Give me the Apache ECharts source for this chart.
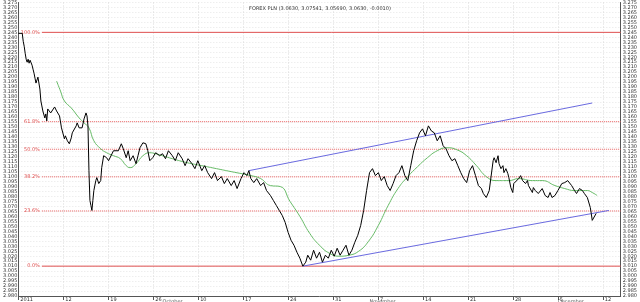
<!DOCTYPE html>
<html><head><meta charset="utf-8">
<script src="https://cdn.jsdelivr.net/npm/echarts/dist/echarts.min.js"></script>
<style>html,body{margin:0;padding:0;background:#fff}#c{width:640px;height:302px}</style>
</head><body><div id="c"></div>
<script>
const titleText = "FOREX PLN (3.0630, 3.07541, 3.05690, 3.0630, -0.0010)";
const weekLabels = ["2011","12","19","26","10","17","24","31","7","14","21","28","5","12"];
const monthNames = ["October","November","December"];
const monthBars = [147, 358, 550];
const fibPct = [1, 0.618, 0.5, 0.382, 0.236, 0];
const fibText = ["100.0%","61.8%","50.0%","38.2%","23.6%","0.0%"];
const fibHigh = 3.245, fibLow = 3.010;
const upperChannel = [[235,3.106],[585,3.174]];
const lowerChannel = [[290,3.010],[602,3.066]];
const closes = [
[0,3.244],[2,3.245],[4,3.244],[5,3.236],[6,3.231],[7,3.224],[8,3.218],[9,3.215],[10,3.218],[11,3.214],[12,3.217],[13,3.216],[14,3.212],[15,3.208],[16,3.204],[17,3.199],[18,3.194],[19,3.196],[20,3.200],[21,3.198],[22,3.188],[23,3.176],[24,3.171],[25,3.166],[26,3.164],[27,3.159],[28,3.163],[29,3.156],[30,3.168],[32,3.169],[33,3.164],[35,3.166],[37,3.170],[39,3.166],[40,3.168],[42,3.161],[44,3.149],[47,3.138],[48,3.141],[50,3.136],[52,3.133],[54,3.139],[55,3.144],[57,3.143],[59,3.151],[60,3.154],[62,3.149],[64,3.151],[65,3.149],[67,3.158],[69,3.164],[70,3.161],[71,3.151],[72,3.106],[73,3.076],[74,3.071],[75,3.066],[76,3.076],[77,3.086],[79,3.096],[80,3.099],[82,3.093],[84,3.096],[85,3.109],[87,3.121],[89,3.123],[90,3.119],[92,3.116],[94,3.118],[97,3.126],[99,3.124],[102,3.126],[105,3.133],[107,3.128],[110,3.119],[112,3.126],[114,3.116],[117,3.121],[120,3.113],[122,3.121],[124,3.129],[127,3.134],[129,3.136],[130,3.133],[132,3.126],[134,3.116],[137,3.119],[140,3.124],[144,3.121],[147,3.123],
[150,3.118],[153,3.126],[157,3.121],[160,3.116],[163,3.124],[167,3.118],[170,3.111],[173,3.118],[177,3.113],[180,3.108],[183,3.116],[187,3.106],[190,3.111],[193,3.104],[197,3.098],[200,3.104],[203,3.096],[207,3.100],[210,3.093],[213,3.098],[217,3.091],[220,3.096],[223,3.088],[227,3.098],[230,3.104],[233,3.101],[235,3.106],[237,3.098],[240,3.094],[243,3.098],[247,3.091],[250,3.094],[253,3.086],[257,3.081],[260,3.076],[263,3.071],[266,3.066],[269,3.061],[272,3.054],[275,3.044],[278,3.036],[281,3.031],[284,3.024],[287,3.018],[290,3.010],[293,3.014],[295,3.021],[298,3.016],[301,3.026],[304,3.018],[307,3.024],[310,3.014],[313,3.021],[316,3.018],[319,3.026],[322,3.020],[325,3.028],[328,3.021],[331,3.026],[334,3.031],[337,3.021],[340,3.026],[343,3.034],[346,3.041],[349,3.051],[352,3.066],[355,3.086],[358,3.104],[361,3.108],[364,3.101],[367,3.104],[370,3.096],[373,3.100],[376,3.091],[379,3.086],[382,3.093],[385,3.101],[388,3.104],[391,3.111],[394,3.101],[397,3.096],[400,3.111],[403,3.126],[406,3.136],[409,3.144],[412,3.148],[415,3.141],[418,3.151],[421,3.146],[424,3.144],[427,3.136],[430,3.141],[433,3.131],[436,3.128],[439,3.121],[442,3.116],[445,3.118],[448,3.111],[451,3.104],[454,3.098],[457,3.094],[460,3.106],[463,3.111],[466,3.101],[469,3.091],[472,3.088],[474,3.083],[477,3.079],[480,3.086],[484,3.116],[485,3.119],[487,3.114],[489,3.121],[490,3.113],[492,3.108],[494,3.111],[495,3.104],[497,3.108],[499,3.103],[500,3.099],[502,3.089],[504,3.084],[505,3.093],[507,3.094],[510,3.098],[512,3.101],[514,3.096],[515,3.098],[517,3.093],[519,3.096],[520,3.091],[522,3.089],[524,3.084],[525,3.089],[527,3.086],[529,3.088],[530,3.083],[534,3.088],[537,3.081],[540,3.079],[542,3.084],[544,3.079],[547,3.081],[550,3.086],[554,3.093],[557,3.094],[560,3.096],[562,3.094],[564,3.091],[567,3.086],[569,3.083],[570,3.081],[572,3.088],[574,3.089],[575,3.086],[577,3.083],[580,3.079],[582,3.078],[583,3.069],[584,3.063],[585,3.056],[587,3.058],[589,3.063]
];
const movingAvg = [
[39,3.196],[43,3.186],[47,3.176],[54,3.169],[62,3.159],[67,3.154],[72,3.149],[77,3.136],[84,3.128],[90,3.124],[97,3.121],[104,3.118],[110,3.111],[114,3.109],[120,3.113],[127,3.121],[134,3.124],[140,3.123],[147,3.121],[157,3.118],[172,3.114],[187,3.111],[202,3.108],[217,3.105],[237,3.101],[247,3.098],[257,3.091],[267,3.090],[277,3.075],[287,3.060],[297,3.043],[307,3.031],[317,3.023],[327,3.020],[337,3.021],[347,3.025],[357,3.035],[367,3.051],[377,3.071],[387,3.088],[397,3.100],[407,3.110],[417,3.119],[427,3.126],[437,3.129],[447,3.127],[457,3.121],[467,3.111],[477,3.100],[487,3.096],[500,3.096],[510,3.098],[524,3.096],[534,3.096],[547,3.091],[557,3.088],[567,3.086],[580,3.086],[585,3.084],[590,3.081]
];

const yMin = 2.980, yMax = 3.275, yStep = 0.005;
const xMax = 614, weekStep = 45.83;
const fibColor = '#e05050';

const fibSeries = fibPct.map((p, i) => {
  const v = fibLow + p * (fibHigh - fibLow);
  const solid = (p === 0 || p === 1);
  return {
    type: 'line', name: 'fib' + fibText[i], symbol: 'circle', symbolSize: 0, showSymbol: true,
    silent: true, z: 1,
    lineStyle: {color: solid ? fibColor : '#e86060', width: 1, type: solid ? 'solid' : [1, 1]},
    itemStyle: {color: fibColor},
    data: [
      {value: [24, v], label: {show: true, position: 'left', distance: 2, formatter: fibText[i],
        color: fibColor, fontSize: 5, fontFamily: 'DejaVu Sans'}},
      {value: [xMax, v]}
    ]
  };
});

const axisLabelStyle = {fontSize: 5, color: '#333', fontFamily: 'DejaVu Sans'};

const chart = echarts.init(document.getElementById('c'));
chart.setOption({
  animation: false,
  backgroundColor: '#fff',
  title: {text: titleText, left: 'center', top: 1,
    textStyle: {fontSize: 5, fontWeight: 'normal', color: '#333', fontFamily: 'DejaVu Sans'}},
  grid: {left: 13, right: 13, top: 1, bottom: 6, containLabel: false},
  xAxis: {type: 'value', min: 0, max: xMax, interval: weekStep,
    axisLine: {show: true, lineStyle: {color: '#555', width: 1}},
    axisTick: {show: true, length: 4, lineStyle: {color: '#555'}},
    axisLabel: Object.assign({}, axisLabelStyle, {margin: 1, align: 'left', padding: [0,0,0,2],
      showMaxLabel: false,
      formatter: v => weekLabels[Math.round(v / weekStep)] || ''}),
    splitLine: {show: true, lineStyle: {color: '#d8d8d8', type: [1, 2], width: 1}}
  },
  yAxis: [
    {type: 'value', position: 'left', min: yMin, max: yMax, interval: yStep,
      axisLine: {show: true, lineStyle: {color: '#555'}},
      axisTick: {show: false},
      axisLabel: Object.assign({}, axisLabelStyle, {margin: 1, formatter: v => v.toFixed(3)}),
      splitLine: {show: true, lineStyle: {color: '#e6e6e6', type: [1, 2], width: 1}}},
    {type: 'value', position: 'right', min: yMin, max: yMax, interval: yStep,
      axisLine: {show: true, lineStyle: {color: '#555'}},
      axisTick: {show: false},
      axisLabel: Object.assign({}, axisLabelStyle, {margin: 2, formatter: v => v.toFixed(3)}),
      splitLine: {show: false}}
  ],
  series: fibSeries.concat([
    {type: 'line', name: 'MA', data: movingAvg, symbol: 'none', smooth: true,
      lineStyle: {color: '#66bb66', width: 1}},
    {type: 'line', name: 'upper', data: upperChannel, symbol: 'none',
      lineStyle: {color: '#6a6ae0', width: 1}},
    {type: 'line', name: 'lower', data: lowerChannel, symbol: 'none',
      lineStyle: {color: '#6a6ae0', width: 1}},
    {type: 'line', name: 'close', data: closes, symbol: 'none',
      lineStyle: {color: '#000', width: 1}},
    {type: 'scatter', name: 'months', symbolSize: 0, clip: false,
      data: monthBars.map((b, i) => ({value: [b, yMin], name: monthNames[i]})),
      label: {show: true, position: 'right', distance: 0, offset: [0, 6], formatter: p => p.name,
        fontSize: 5, color: '#333', fontFamily: 'DejaVu Sans'}}
  ])
});
</script></body></html>
